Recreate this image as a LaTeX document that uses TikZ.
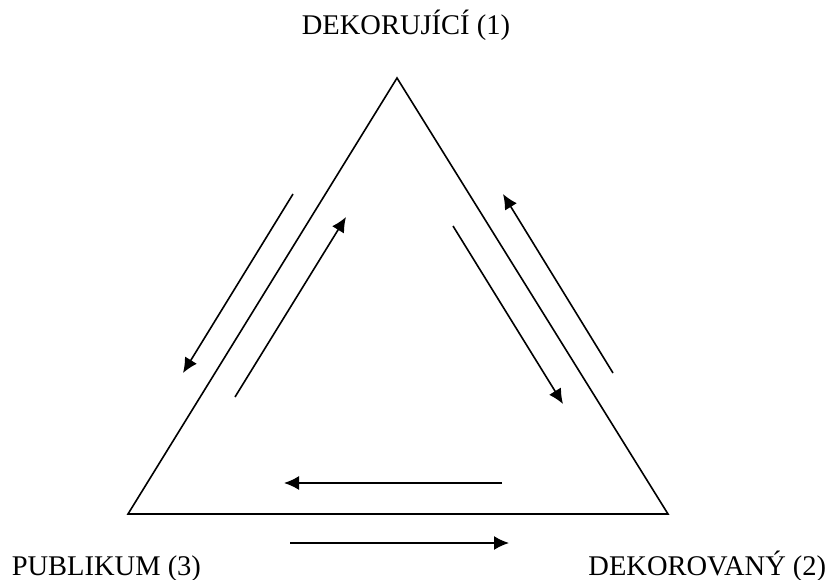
\documentclass[tikz,border=0pt]{standalone}
\usepackage{fontspec}
\setmainfont{Liberation Serif}
\usepackage{tikz}
\usetikzlibrary{arrows.meta}

\begin{document}
\begin{tikzpicture}[x=1pt, y=-1pt, line width=1.6pt,
    lbl/.style={font=\fontsize{28.5}{34}\selectfont, inner sep=0pt},
    flow/.style={-{Latex[length=15pt, width=14pt]}}]
  \useasboundingbox (0,0) rectangle (832,580);
  % corners of the triangle
  \coordinate (top) at (397,78);
  \coordinate (bl) at (128,514);
  \coordinate (br) at (668,514);
  \draw (top) -- (br) -- (bl) -- cycle;
  % labels
  \node[lbl, anchor=base] (dec1) at (406,35) {DEKORUJÍCÍ (1)};
  \node[lbl, anchor=base west] (pub3) at (11,575) {PUBLIKUM (3)};
  \node[lbl, anchor=base east] (dec2) at (827,575) {DEKOROVANÝ (2)};
  % arrow ends
  \coordinate (l1s) at (293,194);  \coordinate (l1e) at (183,373);
  \coordinate (l2s) at (235,397);  \coordinate (l2e) at (346,217);
  \coordinate (r1s) at (453,226);  \coordinate (r1e) at (563,404);
  \coordinate (r2s) at (613,373);  \coordinate (r2e) at (503,194);
  \coordinate (b1s) at (502,483);  \coordinate (b1e) at (284,483);
  \coordinate (b2s) at (290,543);  \coordinate (b2e) at (509,543);
  \foreach \s/\e in {l1s/l1e, l2s/l2e, r1s/r1e, r2s/r2e, b1s/b1e, b2s/b2e}
    \draw[flow] (\s) -- (\e);
\end{tikzpicture}
\end{document}
